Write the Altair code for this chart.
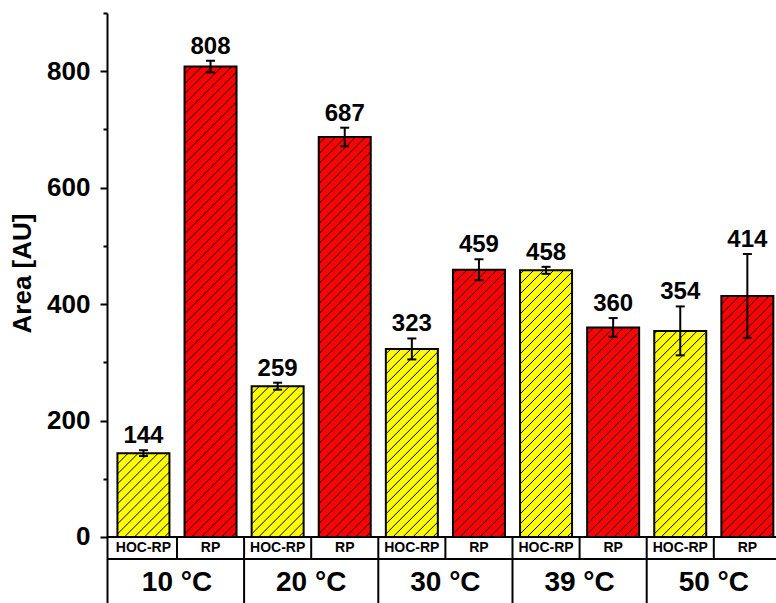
import altair as alt
import pandas as pd

# ---- data -------------------------------------------------------------
temps = ["10 °C", "20 °C", "30 °C", "39 °C", "50 °C"]
samples = ["HOC-RP", "RP"]
hoc_rp_area = [144, 259, 323, 458, 354]
hoc_rp_err = [5, 6, 18, 6, 42]
rp_area = [808, 687, 459, 360, 414]
rp_err = [10, 16, 18, 16, 72]
sample_colors = ["#FFFF00", "#FF0000"]

# ---- layout constants (plot area in px, scale domains) ----------------
W, H = 669, 590
X_MIN, X_MAX = -0.543, 9.427
Y_MIN, Y_MAX = -113.4, 900
SX = W / (X_MAX - X_MIN)          # px per x unit
SY = H / (Y_MAX - Y_MIN)          # px per y unit
BAR_PX = 52.0                     # bar width (inside the outline)
BAR_HALF = BAR_PX / 2 / SX
CAP_HALF = 4.5 / SX
HATCH_GAP = 10.0                  # px between hatch lines
ROW1_BOTTOM = -37.8               # table: sample row / temperature row split
ROW1_MID = ROW1_BOTTOM / 2
ROW2_MID = -79
FONT = "Liberation Sans"

rows = []
for t, temp in enumerate(temps):
    for s, (areas, errs) in enumerate(((hoc_rp_area, hoc_rp_err), (rp_area, rp_err))):
        pos = 2 * t + s
        a, e = areas[t], errs[t]
        rows.append(dict(temp=temp, sample=samples[s], pos=pos, area=a, base=0,
                         lo=a - e, hi=a + e,
                         left=pos - BAR_HALF, right=pos + BAR_HALF,
                         cap_l=pos - CAP_HALF, cap_r=pos + CAP_HALF))
bars = pd.DataFrame(rows)

# diagonal "/" hatch segments clipped to each bar
segs = []
for r in rows:
    h = r["area"] * SY
    c = BAR_PX - HATCH_GAP / 2
    while c > -h:
        u0, u1 = max(0.0, c), min(BAR_PX, c + h)
        if u1 - u0 > 0.5:
            segs.append(dict(x=r["left"] + u0 / SX, y=(u0 - c) / SY,
                             x2=r["left"] + u1 / SX, y2=(u1 - c) / SY))
        c -= HATCH_GAP
hatch = pd.DataFrame(segs)

# table grid below the bars
hlines = pd.DataFrame({"y": [0, ROW1_BOTTOM], "x": [X_MIN, X_MIN], "x2": [X_MAX, X_MAX]})
vlines = pd.DataFrame(
    [dict(x=i + 0.5, y=0, y2=ROW1_BOTTOM) for i in range(9)]
    + [dict(x=g + 1.5, y=ROW1_BOTTOM, y2=Y_MIN) for g in (0, 2, 4, 6)]
)
sample_cells = pd.DataFrame({"pos": bars["pos"], "label": bars["sample"], "y": ROW1_MID})
temp_cells = pd.DataFrame({"pos": [2 * t + 0.5 for t in range(len(temps))],
                           "label": temps, "y": ROW2_MID})

xs = alt.Scale(domain=[X_MIN, X_MAX], nice=False, zero=False)
ys = alt.Scale(domain=[Y_MIN, Y_MAX], nice=False, zero=False)

y_axis = alt.Axis(
    values=list(range(0, 1000, 100)),
    labelExpr="datum.value % 200 === 0 && datum.value < 900 ? datum.label : ''",
    tickSize={"condition": {"test": "datum.value % 200 === 0", "value": 7}, "value": 4},
    tickWidth=2, tickColor="black",
    domainWidth=2, domainColor="black",
    grid=False, labelOverlap=False,
    labelFont=FONT, labelFontSize=26, labelFontWeight="bold", labelColor="black",
    labelPadding=10,
    title="Area [AU]", titleFont=FONT, titleFontSize=26, titleFontWeight="bold",
    titleColor="black", titleAngle=270, titleAlign="center", titleBaseline="middle",
    titleX=-85, titleY=260,
)


def X(field):
    return alt.X(field, type="quantitative", scale=xs, axis=None)


def Y(field):
    # every layer carries the same y axis so the shared axis merges cleanly
    return alt.Y(field, type="quantitative", scale=ys, axis=y_axis)


fill = alt.Chart(bars).mark_rect().encode(
    x=X("left"), x2="right", y=Y("area"), y2="base",
    color=alt.Color("sample:N", scale=alt.Scale(domain=samples, range=sample_colors), legend=None),
)

hatch_lines = alt.Chart(hatch).mark_rule(color="black", strokeWidth=1).encode(
    x=X("x"), x2="x2", y=Y("y"), y2="y2"
)

outline = alt.Chart(bars).mark_rect(fillOpacity=0, stroke="black", strokeWidth=2).encode(
    x=X("left"), x2="right", y=Y("area"), y2="base"
)

err = alt.Chart(bars).mark_rule(color="black", strokeWidth=2).encode(
    x=X("pos"), y=Y("lo"), y2="hi"
)
cap_hi = alt.Chart(bars).mark_rule(color="black", strokeWidth=2).encode(
    x=X("cap_l"), x2="cap_r", y=Y("hi")
)
cap_lo = alt.Chart(bars).mark_rule(color="black", strokeWidth=2).encode(
    x=X("cap_l"), x2="cap_r", y=Y("lo")
)

values = alt.Chart(bars).mark_text(
    font=FONT, fontSize=24, fontWeight="bold", color="black", baseline="alphabetic", dy=-7
).encode(x=X("pos"), y=Y("hi"), text=alt.Text("area:Q", format="d"))

grid_h = alt.Chart(hlines).mark_rule(color="black", strokeWidth=2).encode(
    x=X("x"), x2="x2", y=Y("y")
)
grid_v = alt.Chart(vlines).mark_rule(color="black", strokeWidth=2).encode(
    x=X("x"), y=Y("y"), y2="y2"
)

sample_text = alt.Chart(sample_cells).mark_text(
    font=FONT, fontSize=14, fontWeight="bold", color="black", baseline="middle"
).encode(x=X("pos"), y=Y("y"), text="label:N")

temp_text = alt.Chart(temp_cells).mark_text(
    font=FONT, fontSize=28, fontWeight="bold", color="black", baseline="middle"
).encode(x=X("pos"), y=Y("y"), text="label:N")

chart = alt.layer(
    fill, hatch_lines, outline, err, cap_hi, cap_lo, values,
    grid_h, grid_v, sample_text, temp_text,
).properties(
    width=W, height=H,
    padding={"left": 107, "top": 13, "right": 0, "bottom": 0},
    autosize=alt.AutoSizeParams(type="none"),
    background="white",
).configure_view(stroke=None)

chart.save("out.html", embed_options={"renderer": "svg", "actions": False})
